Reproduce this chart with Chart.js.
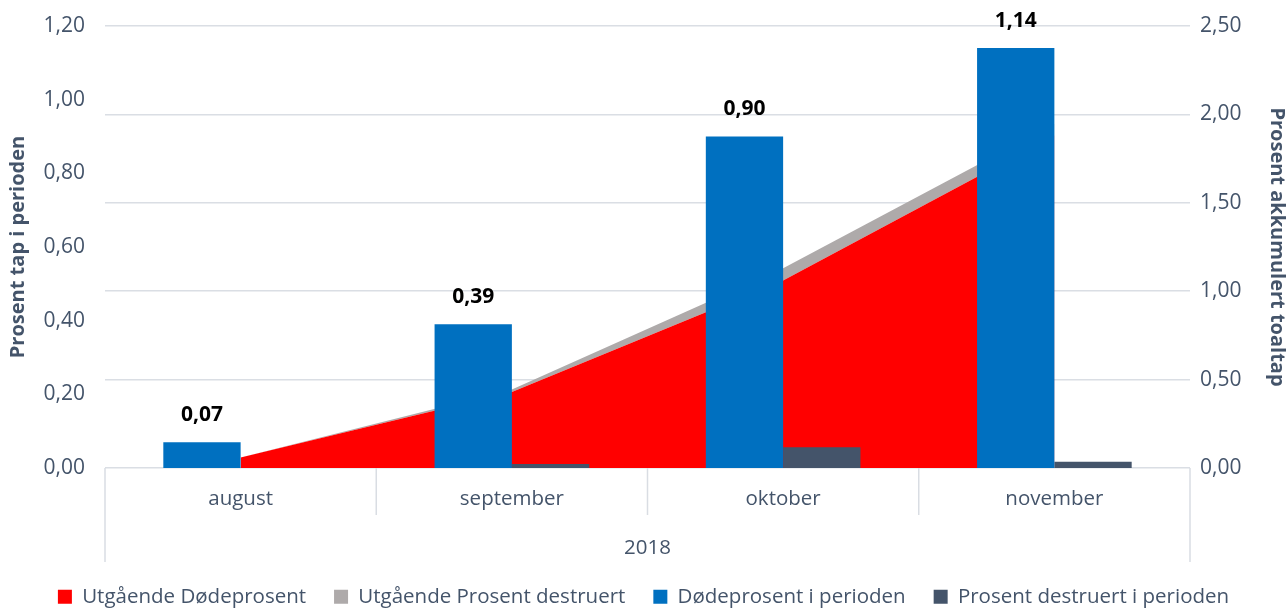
<!DOCTYPE html>
<html>
<head>
<meta charset="utf-8">
<script src="https://cdn.jsdelivr.net/npm/chart.js@4.4.1/dist/chart.umd.min.js"></script>
<style>
  html, body { margin: 0; padding: 0; background: #ffffff; }
  #wrap { width: 1287px; height: 609px; position: relative; }
</style>
</head>
<body>
<div id="wrap"><canvas id="c" width="1287" height="609"></canvas></div>
<script>
// ---- data ----
const categories = ['august', 'september', 'oktober', 'november'];
const groupLabel = '2018';
const utgaendeDodeprosent = [0.06, 0.43, 1.06, 1.88];          // right axis, stacked area
const utgaendeProsentDestruert = [0.00, 0.014, 0.07, 0.065];   // right axis, stacked area
const dodeprosentPerioden = [0.07, 0.39, 0.90, 1.14];          // left axis, bars
const prosentDestruertPerioden = [0.00, 0.011, 0.056, 0.017];  // left axis, bars
const leftAxis = { min: 0, max: 1.2, step: 0.2, title: 'Prosent tap i perioden' };
const rightAxis = { min: 0, max: 2.5, step: 0.5, title: 'Prosent akkumulert toaltap' };
const seriesNames = ['Utgående Dødeprosent', 'Utgående Prosent destruert', 'Dødeprosent i perioden', 'Prosent destruert i perioden'];

const FONT = "'Open Sans', 'Noto Sans', sans-serif";
const TXT = '#44546A';
const fmt = v => Number(v).toFixed(2).replace('.', ',');

const separatorPlugin = {
  id: 'separators',
  afterDraw(chart) {
    const x = chart.scales.x;
    const ctx = chart.ctx;
    const area = chart.chartArea;
    const n = categories.length;
    const half = (x.getPixelForValue(1) - x.getPixelForValue(0)) / 2;
    ctx.save();
    ctx.strokeStyle = '#d9dde3';
    ctx.lineWidth = 1.5;
    for (let i = 0; i <= n; i++) {
      const px = i < n ? x.getPixelForValue(i) - half : x.getPixelForValue(n - 1) + half;
      const outer = (i === 0 || i === n);
      ctx.beginPath();
      ctx.moveTo(px, area.bottom);
      ctx.lineTo(px, area.bottom + (outer ? 94 : 47));
      ctx.stroke();
    }
    ctx.restore();
  }
};

const labelPlugin = {
  id: 'barLabels',
  afterDatasetsDraw(chart) {
    const ctx = chart.ctx;
    const idx = 2;
    const meta = chart.getDatasetMeta(idx);
    ctx.save();
    ctx.fillStyle = '#000000';
    ctx.font = "bold 21px " + FONT;
    ctx.textAlign = 'center';
    ctx.textBaseline = 'middle';
    meta.data.forEach((bar, i) => {
      ctx.fillText(fmt(chart.data.datasets[idx].data[i]), bar.x, bar.y - 27);
    });
    ctx.restore();
  }
};

const fitVertical = w => s => { s.width = w; s.paddingTop = 0; s.paddingBottom = 0; };

new Chart(document.getElementById('c'), {
  type: 'bar',
  data: {
    labels: categories,
    datasets: [
      {
        type: 'line', label: seriesNames[0], data: utgaendeDodeprosent, yAxisID: 'y1',
        backgroundColor: '#FF0000', borderColor: '#FF0000', borderWidth: 0,
        pointRadius: 0, tension: 0, fill: 'origin', order: 2
      },
      {
        type: 'line', label: seriesNames[1], data: utgaendeProsentDestruert, yAxisID: 'y1',
        backgroundColor: '#AEAAAA', borderColor: '#AEAAAA', borderWidth: 0,
        pointRadius: 0, tension: 0, fill: '-1', order: 2
      },
      {
        label: seriesNames[2], data: dodeprosentPerioden, yAxisID: 'y',
        backgroundColor: '#0070C0', borderWidth: 0, order: 1,
        categoryPercentage: 0.57, barPercentage: 1.0
      },
      {
        label: seriesNames[3], data: prosentDestruertPerioden, yAxisID: 'y',
        backgroundColor: '#44546A', borderWidth: 0, order: 1,
        categoryPercentage: 0.57, barPercentage: 1.0
      }
    ]
  },
  options: {
    responsive: false,
    animation: false,
    layout: { padding: { top: 26, left: 0, right: 0, bottom: -8 } },
    plugins: {
      legend: {
        position: 'bottom',
        labels: {
          boxWidth: 14, boxHeight: 14, padding: 28,
          color: TXT, font: { family: FONT, size: 20.5 },
          sort: (a, b) => a.datasetIndex - b.datasetIndex
        }
      },
      tooltip: { enabled: false }
    },
    scales: {
      x: {
        offset: true,
        grid: { display: false, drawTicks: false },
        border: { display: false },
        ticks: { color: TXT, font: { family: FONT, size: 20.5 }, padding: 19 },
        title: { display: true, text: groupLabel, color: TXT, font: { family: FONT, size: 20.5 }, padding: { top: 0, bottom: -2 } },
        afterFit: s => { s.height = 90.5; }
      },
      y: {
        position: 'left',
        min: leftAxis.min, max: leftAxis.max,
        grid: { display: false, drawTicks: false },
        border: { display: false },
        ticks: { stepSize: leftAxis.step, color: TXT, font: { family: FONT, size: 21 }, padding: 20, callback: v => fmt(v) },
        title: { display: true, text: leftAxis.title, color: TXT, font: { family: FONT, size: 20, weight: 'bold' }, padding: { top: 6, bottom: 0 } },
        afterFit: fitVertical(105)
      },
      y1: {
        position: 'right',
        stacked: true,
        min: rightAxis.min, max: rightAxis.max,
        grid: { display: true, color: '#dadee4', lineWidth: 1.5, drawTicks: false },
        border: { display: false },
        ticks: { stepSize: rightAxis.step, color: TXT, font: { family: FONT, size: 21 }, padding: 10, callback: v => fmt(v) },
        title: { display: true, text: rightAxis.title, color: TXT, font: { family: FONT, size: 20, weight: 'bold' }, padding: { top: -2, bottom: 0 } },
        afterFit: fitVertical(97)
      }
    }
  },
  plugins: [separatorPlugin, labelPlugin]
});
</script>
</body>
</html>
